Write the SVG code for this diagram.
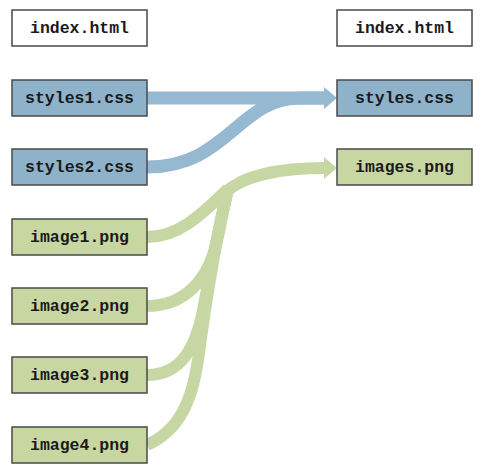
<svg xmlns="http://www.w3.org/2000/svg" width="484" height="475" viewBox="0 0 484 475">
<style>
.box{stroke:#4a4a4a;stroke-width:1.5}
.w{fill:#ffffff}
.b{fill:#8fb2cb}
.g{fill:#c8d7a2}
text{font-family:"Liberation Mono","Courier New",monospace;font-weight:bold;font-size:16.5px;fill:#1a1a1a;text-anchor:middle}
.cb{fill:none;stroke:#95b9d1;stroke-width:13}
.cg{fill:none;stroke:#c7d7a3;stroke-width:12}
</style>
<rect width="484" height="475" fill="#ffffff"/>
<g id="connectors">
<path class="cb" d="M147,98 L326,98"/>
<path class="cb" d="M147,167 C228,167 238,98 300,98 L326,98"/>
<polygon points="324,87 337,98 324,109" fill="#95b9d1"/>
<path class="cg" d="M147,237 C180,237 204,212 228,189"/>
<path class="cg" d="M147,306 C185,306 207,280 216,245 C221,222 224,205 228,189"/>
<path class="cg" d="M147,375 C180,375 196,350 204,305 C212,260 222,215 228,189"/>
<path class="cg" d="M147,445 C180,430 192,400 198,360 C206,300 218,230 228,189"/>
<path class="cg" d="M226,192 C244,175 282,168 326,168"/>
<polygon points="324,157 337,168 324,179" fill="#c7d7a3"/>
</g>
<g id="n-index-left"><rect class="box w" x="12" y="10" width="135" height="36"/><text x="79.5" y="33">index.html</text></g>
<g id="n-styles1"><rect class="box b" x="12" y="80" width="135" height="36"/><text x="79.5" y="103">styles1.css</text></g>
<g id="n-styles2"><rect class="box b" x="12" y="149" width="135" height="36"/><text x="79.5" y="172">styles2.css</text></g>
<g id="n-image1"><rect class="box g" x="12" y="219" width="135" height="36"/><text x="79.5" y="242">image1.png</text></g>
<g id="n-image2"><rect class="box g" x="12" y="288" width="135" height="36"/><text x="79.5" y="311">image2.png</text></g>
<g id="n-image3"><rect class="box g" x="12" y="357" width="135" height="36"/><text x="79.5" y="380">image3.png</text></g>
<g id="n-image4"><rect class="box g" x="12" y="427" width="135" height="36"/><text x="79.5" y="450">image4.png</text></g>
<g id="n-index-right"><rect class="box w" x="337" y="10" width="135" height="36"/><text x="404.5" y="33">index.html</text></g>
<g id="n-styles"><rect class="box b" x="337" y="80" width="135" height="36"/><text x="404.5" y="103">styles.css</text></g>
<g id="n-images"><rect class="box g" x="337" y="149" width="135" height="36"/><text x="404.5" y="172">images.png</text></g>
</svg>
